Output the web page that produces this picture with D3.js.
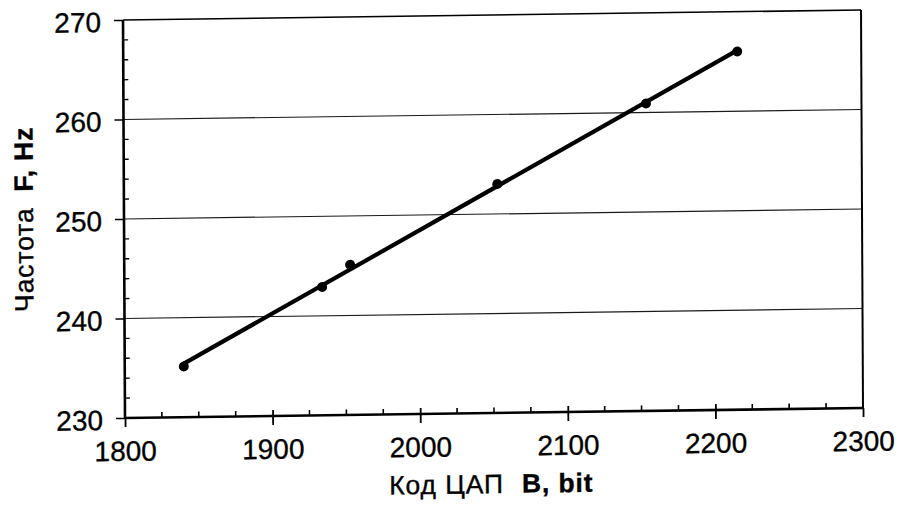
<!DOCTYPE html>
<html>
<head>
<meta charset="utf-8">
<script src="https://cdn.jsdelivr.net/npm/d3@7"></script>
<style>
  html, body { margin: 0; padding: 0; background: #fff; }
  svg { display: block; }
  text { font-family: "Liberation Sans", Arial, sans-serif; fill: #000; stroke: #000; stroke-width: 0.35; }
</style>
</head>
<body>
<svg id="chart" width="903" height="505"></svg>
<script>
// ---- data ----
const codeB = [1840, 1934, 1953, 2053, 2154, 2216];        // DAC code, bit
const freqF = [235.1, 242.9, 245.1, 253.0, 260.9, 266.0];  // frequency, Hz
const xTicks = [1800, 1900, 2000, 2100, 2200, 2300];
const yTicks = [230, 240, 250, 260, 270];
const xTitleNormal = "Код ЦАП";
const xTitleBold = "B, bit";
const yTitleNormal = "Частота";
const yTitleBold = "F, Hz";

const svg = d3.select("#chart");
const W = 738, H = 398;
// the scanned original is slightly skewed: reproduce with an affine transform
const g = svg.append("g").attr("transform", "matrix(1,-0.01355,0.005,1,125,418)");

const x = d3.scaleLinear().domain([1800, 2300]).range([0, W]);
const y = d3.scaleLinear().domain([230, 270]).range([0, -H]);

// gridlines
g.append("g").selectAll("line").data(yTicks.filter(v => v > 230 && v < 270)).join("line")
  .attr("x1", 0).attr("x2", W).attr("y1", d => y(d)).attr("y2", d => y(d))
  .attr("stroke", "#1a1a1a").attr("stroke-width", 1.2);

// frame top/right
g.append("line").attr("x1", 0).attr("x2", W).attr("y1", y(270)).attr("y2", y(270))
  .attr("stroke", "#000").attr("stroke-width", 1.6);
g.append("line").attr("x1", W).attr("x2", W).attr("y1", y(270)).attr("y2", y(230))
  .attr("stroke", "#000").attr("stroke-width", 2);

// Y axis
const yAxis = d3.axisLeft(y).tickValues(yTicks).tickSize(9).tickPadding(13).tickFormat(d3.format("d"));
const ya = g.append("g").call(yAxis);
ya.select(".domain").remove();
ya.selectAll(".tick line").attr("stroke", "#000").attr("stroke-width", 1.5);
ya.selectAll(".tick text").attr("font-size", 28).attr("dy", "0.4em")
  .style("font-family", '"Liberation Sans", Arial, sans-serif');
const yMinor = d3.range(232, 270, 2).filter(v => v % 10 !== 0);
g.append("g").selectAll("line").data(yMinor).join("line")
  .attr("x1", 0).attr("x2", 5).attr("y1", d => y(d)).attr("y2", d => y(d))
  .attr("stroke", "#000").attr("stroke-width", 1.4);
g.append("line").attr("x1", 0).attr("x2", 0).attr("y1", y(270)).attr("y2", y(230))
  .attr("stroke", "#000").attr("stroke-width", 2.6);

// X axis
const xAxis = d3.axisBottom(x).tickValues(xTicks).tickSize(9).tickPadding(14).tickFormat(d3.format("d"));
const xa = g.append("g").call(xAxis);
xa.select(".domain").remove();
xa.selectAll(".tick line").attr("stroke", "#000").attr("stroke-width", 1.8)
  .attr("y1", d => (d === 1800 || d === 2300) ? 0 : -6);
xa.selectAll(".tick text").attr("font-size", 28)
  .style("font-family", '"Liberation Sans", Arial, sans-serif');
const xMinor = d3.range(1825, 2300, 25).filter(v => v % 100 !== 0);
g.append("g").selectAll("line").data(xMinor).join("line")
  .attr("x1", d => x(d)).attr("x2", d => x(d)).attr("y1", 0).attr("y2", -5.5)
  .attr("stroke", "#000").attr("stroke-width", 1.6);
g.append("line").attr("x1", 0).attr("x2", W).attr("y1", 0).attr("y2", 0)
  .attr("stroke", "#000").attr("stroke-width", 2.6);

// linear trend line (least squares through the data)
const n = codeB.length;
const mx = d3.mean(codeB), my = d3.mean(freqF);
let sxy = 0, sxx = 0;
for (let i = 0; i < n; i++) { sxy += (codeB[i] - mx) * (freqF[i] - my); sxx += (codeB[i] - mx) ** 2; }
const slope = sxy / sxx, icpt = my - slope * mx;
const x0 = d3.min(codeB), x1 = d3.max(codeB);
g.append("line")
  .attr("x1", x(x0)).attr("y1", y(icpt + slope * x0))
  .attr("x2", x(x1)).attr("y2", y(icpt + slope * x1))
  .attr("stroke", "#000").attr("stroke-width", 4.2).attr("stroke-linecap", "round");

// markers
g.append("g").selectAll("circle").data(codeB.map((b, i) => [b, freqF[i]])).join("circle")
  .attr("cx", d => x(d[0])).attr("cy", d => y(d[1])).attr("r", 5).attr("fill", "#000");

// axis titles
const xt = g.append("text").attr("x", 369 - 3).attr("y", 80).attr("text-anchor", "middle")
  .attr("font-size", 26.5).attr("letter-spacing", 0.9);
xt.append("tspan").text(xTitleNormal);
xt.append("tspan").attr("dx", 18).attr("font-weight", "bold").text(xTitleBold);

const yt = g.append("text").attr("transform", `translate(-91,${-H / 2 - 1}) rotate(-90)`)
  .attr("text-anchor", "middle").attr("font-size", 26.5).attr("letter-spacing", 0.9);
yt.append("tspan").text(yTitleNormal);
yt.append("tspan").attr("dx", 16).attr("font-weight", "bold").text(yTitleBold);
</script>
</body>
</html>
